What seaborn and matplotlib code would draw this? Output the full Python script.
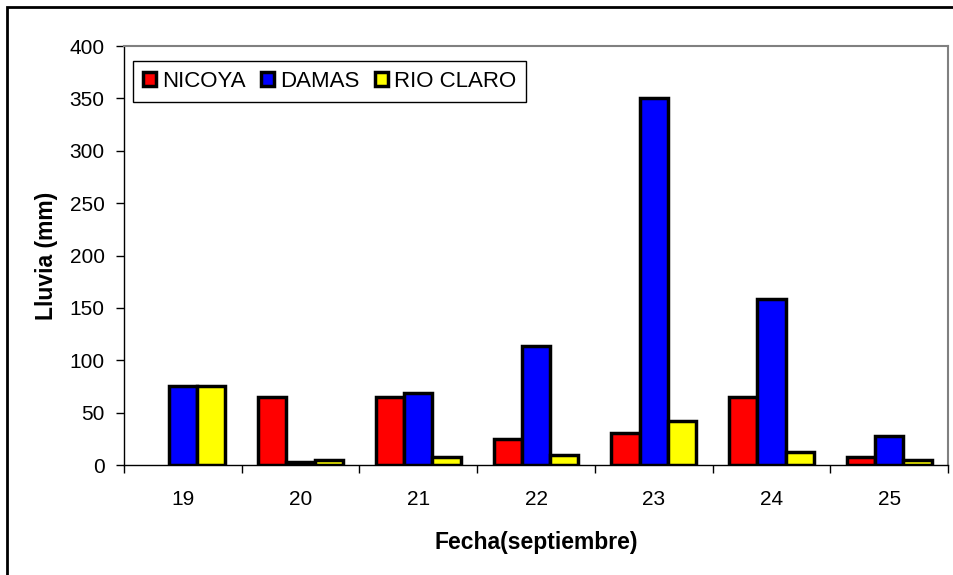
import matplotlib
matplotlib.use('Agg')
import matplotlib.pyplot as plt
import seaborn as sns
import pandas as pd
from matplotlib.patches import Rectangle

# data
fechas = ['19', '20', '21', '22', '23', '24', '25']
nicoya = [0, 65, 65, 25, 31, 65, 8]
damas = [75, 3, 69, 114, 350, 158, 28]
rio_claro = [75, 5, 8, 10, 42, 12, 5]
estaciones = ['NICOYA', 'DAMAS', 'RIO CLARO']
colores = ['#FF0000', '#0000FF', '#FFFF00']

df = pd.DataFrame({
    'fecha': fechas * 3,
    'lluvia': nicoya + damas + rio_claro,
    'estacion': [e for e in estaciones for _ in fechas],
})

sns.set_style('white')
plt.rcParams['font.family'] = ['Liberation Sans', 'DejaVu Sans']
plt.rcParams['text.color'] = 'black'
plt.rcParams['axes.labelcolor'] = 'black'
plt.rcParams['xtick.color'] = 'black'
plt.rcParams['ytick.color'] = 'black'

fig = plt.figure(figsize=(9.54, 5.75), dpi=100)
ax = fig.add_axes([0.130, 0.1913, 0.8637, 0.7287])

sns.barplot(data=df, x='fecha', y='lluvia', hue='estacion', order=fechas,
            hue_order=estaciones, palette=colores, width=0.72,
            edgecolor='black', linewidth=2.5, saturation=1, ax=ax)

# Excel hides empty bars
for p in ax.patches:
    if p.get_height() == 0:
        p.set_linewidth(0)

ax.set_ylim(0, 400)
ax.set_xlim(-0.5, len(fechas) - 0.5)
ax.set_yticks(range(0, 401, 50))
ax.tick_params(axis='y', labelsize=15, length=6, width=1, direction='out', left=True, pad=8)
ax.set_xticks(range(len(fechas)))
ax.set_xticks([i - 0.5 for i in range(len(fechas) + 1)], minor=True)
ax.tick_params(axis='x', which='major', labelsize=15, length=0, pad=18)
ax.tick_params(axis='x', which='minor', length=6, width=1, direction='out', bottom=True)

for s in ['left', 'bottom']:
    ax.spines[s].set_color('black')
    ax.spines[s].set_linewidth(1)
for s in ['top', 'right']:
    ax.spines[s].set_color('#808080')
    ax.spines[s].set_linewidth(1.5)

ax.set_xlabel('Fecha(septiembre)', fontsize=16.5, fontweight='bold', labelpad=16)
ax.set_ylabel('Lluvia (mm)', fontsize=16.5, fontweight='bold', labelpad=8)

leg = ax.legend(loc='upper left', bbox_to_anchor=(0.011, 0.965), ncol=3, fontsize=16,
                frameon=True, fancybox=False, edgecolor='black', framealpha=1,
                handlelength=0.6, handleheight=0.6, handletextpad=0.25,
                columnspacing=0.7, borderpad=0.45, borderaxespad=0)
leg.get_frame().set_linewidth(1)
for h in leg.legend_handles:
    h.set_linewidth(2.5)

# outer chart-area frame
fig.patches.append(Rectangle((7 / 954, -0.1), 1.2, 1.1 - 7 / 575, transform=fig.transFigure,
                             fill=False, edgecolor='black', linewidth=2, clip_on=False))

plt.savefig('out.png', dpi=100)
plt.close()
